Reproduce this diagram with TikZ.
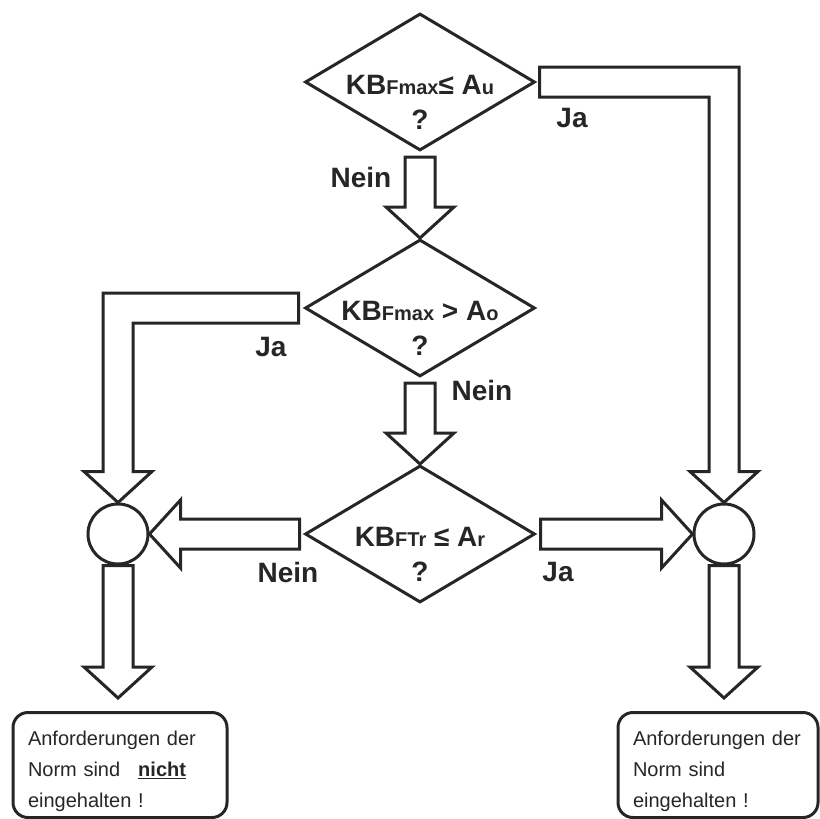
\documentclass[tikz,border=0pt]{standalone}
\usepackage{fontspec}
\setmainfont{Liberation Sans}
\usetikzlibrary{shapes.geometric,calc}
\definecolor{ink}{gray}{0.15}
\newcommand{\sm}[1]{{\fontsize{20}{20}\selectfont #1}}
% hollow block arrows: shaft 30pt, head 68pt wide, 31pt long
\newcommand{\vblock}[2]{%
  \draw[block] let \p1=(#1), \p2=(#2) in
    (\x1-15pt,\y1) -- (\x1-15pt,\y2+31pt) -- (\x1-34pt,\y2+31pt) -- (\x1,\y2)
    -- (\x1+34pt,\y2+31pt) -- (\x1+15pt,\y2+31pt) -- (\x1+15pt,\y1) -- cycle;}
\newcommand{\hblock}[2]{%
  \draw[block] let \p1=(#1), \p2=(#2), \p3=($(\x2,\y1)!31pt!(\x1,\y1)$) in
    (\x1,\y1+15pt) -- (\x3,\y1+15pt) -- (\x3,\y1+34pt) -- (\x2,\y1)
    -- (\x3,\y1-34pt) -- (\x3,\y1-15pt) -- (\x1,\y1-15pt) -- cycle;}
\newcommand{\lblock}[2]{%
  \draw[block] let \p1=(#1), \p2=(#2),
      \p3=($(\x2,\y1)!-15pt!(\x1,\y1)$), \p4=($(\x2,\y1)!15pt!(\x1,\y1)$),
      \p5=($(\x2,\y1)!-34pt!(\x1,\y1)$), \p6=($(\x2,\y1)!34pt!(\x1,\y1)$) in
    (\x1,\y1+15pt) -- (\x3,\y1+15pt) -- (\x3,\y2+31pt) -- (\x5,\y2+31pt) -- (\x2,\y2)
    -- (\x6,\y2+31pt) -- (\x4,\y2+31pt) -- (\x4,\y1-15pt) -- (\x1,\y1-15pt) -- cycle;}
\tikzset{decision/.style={diamond, draw=ink, line width=3pt, inner sep=0pt,
		minimum width=230pt, minimum height=137pt},
	question/.style={font=\bfseries\fontsize{28}{35}\selectfont, text=ink,
		align=center, yshift=-20pt},
	joint/.style={circle, draw=ink, line width=3pt, minimum size=60pt, inner sep=0pt},
	endbox/.style={draw=ink, line width=3pt, rounded corners=15pt, align=left,
		inner xsep=15pt, minimum height=105pt, text=ink,
		font=\fontsize{20}{31}\selectfont},
	answer/.style={font=\bfseries\fontsize{28}{30}\selectfont, text=ink},
	block/.style={draw=ink, fill=white, line width=3pt, line join=miter}}

\begin{document}
\begin{tikzpicture}[x=1pt,y=-1pt]
  \useasboundingbox (0,0) rectangle (819,819);
  \node[decision, label={[question]center:{KB\sm{Fmax}≤\ A\sm{u}\\?}}] (d1) at (420,82) {};
  \node[decision, label={[question]center:{KB\sm{Fmax}\ >\ A\sm{o}\\?}}] (d2) at (420,308) {};
  \node[decision, label={[question]center:{KB\sm{FTr}\ ≤\ A\sm{r}\\?}}] (d3) at (420,534) {};
  \node[joint] (circL) at (118,534) {};
  \node[joint] (circR) at (724,534) {};
  \node[endbox, text width=184pt] (boxL) at (120,765)
    {\rule{0pt}{27pt}Anforderungen der\\Norm sind\hspace{18pt}\underline{\textbf{nicht}}\\eingehalten !};
  \node[endbox, text width=170pt] (boxR) at (718,765)
    {\rule{0pt}{27pt}Anforderungen der\\Norm sind\\eingehalten !};
  \node[answer] (n1) at (361,177) {Nein};
  \node[answer] (j1) at (572,118) {Ja};
  \node[answer] (j2) at (271,347) {Ja};
  \node[answer] (n2) at (482,390) {Nein};
  \node[answer] (n3) at (288,572) {Nein};
  \node[answer] (j3) at (558,572) {Ja};
  \vblock{[yshift=-5pt]d1.south}{d2.north}
  \vblock{[yshift=-5pt]d2.south}{d3.north}
  \hblock{[xshift=-4pt]d3.west}{circL.east}
  \hblock{[xshift=4pt]d3.east}{circR.west}
  \lblock{[xshift=3pt]d1.east}{circR.north}
  \lblock{[xshift=-5pt]d2.west}{circL.north}
  \vblock{circL.south}{[yshift=13pt]boxL.north}
  \vblock{circR.south}{[yshift=13pt]boxR.north}
\end{tikzpicture}
\end{document}
